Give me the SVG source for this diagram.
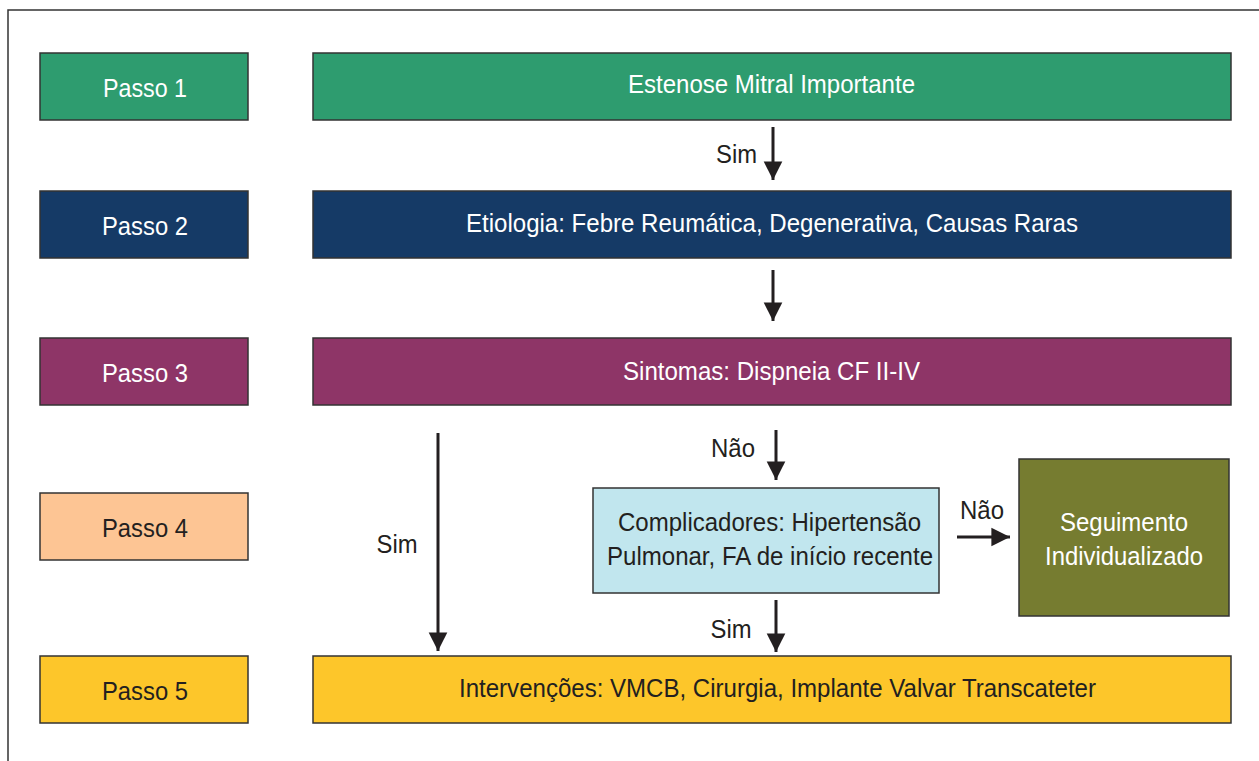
<svg xmlns="http://www.w3.org/2000/svg" width="1259" height="761" viewBox="0 0 1259 761">
<defs>
<marker id="ah" viewBox="0 0 10 10" refX="10" refY="5" markerWidth="6.2" markerHeight="6.5" markerUnits="strokeWidth" orient="auto">
<path d="M0,0 L10,5 L0,10 Z" fill="#231f20"/>
</marker>
<style>
.box{stroke:#333;stroke-width:1.5}
.t{font-family:"Liberation Sans",Arial,sans-serif;font-size:26px;text-anchor:middle}
.w{fill:#fff}
.d{fill:#231f20}
.lbl{font-family:"Liberation Sans",Arial,sans-serif;font-size:25px;fill:#231f20;text-anchor:middle}
.c{stroke:#231f20;stroke-width:3;fill:none;marker-end:url(#ah)}
</style>
</defs>
<rect width="1259" height="761" fill="#fff"/>
<path d="M8,761 V10 H1259" fill="none" stroke="#333" stroke-width="1.5"/>

<g id="passo1"><rect class="box" x="40" y="53" width="208" height="67" fill="#2e9c6f"/><text class="t w" x="145" y="97" textLength="84" lengthAdjust="spacingAndGlyphs">Passo 1</text></g>
<g id="passo2"><rect class="box" x="40" y="191" width="208" height="67" fill="#153a66"/><text class="t w" x="145" y="235" textLength="86" lengthAdjust="spacingAndGlyphs">Passo 2</text></g>
<g id="passo3"><rect class="box" x="40" y="338" width="208" height="67" fill="#8e3567"/><text class="t w" x="145" y="382" textLength="86" lengthAdjust="spacingAndGlyphs">Passo 3</text></g>
<g id="passo4"><rect class="box" x="40" y="493" width="208" height="67" fill="#fdc594"/><text class="t d" x="145" y="537" textLength="86" lengthAdjust="spacingAndGlyphs">Passo 4</text></g>
<g id="passo5"><rect class="box" x="40" y="656" width="208" height="67" fill="#fdc62a"/><text class="t d" x="145" y="700" textLength="86" lengthAdjust="spacingAndGlyphs">Passo 5</text></g>

<g id="estenose"><rect class="box" x="313" y="53" width="918" height="67" fill="#2e9c6f"/><text class="t w" x="771.5" y="93" textLength="287" lengthAdjust="spacingAndGlyphs">Estenose Mitral Importante</text></g>
<g id="etiologia"><rect class="box" x="313" y="191" width="918" height="67" fill="#153a66"/><text class="t w" x="772" y="232" textLength="612" lengthAdjust="spacingAndGlyphs">Etiologia: Febre Reumática, Degenerativa, Causas Raras</text></g>
<g id="sintomas"><rect class="box" x="313" y="338" width="918" height="67" fill="#8e3567"/><text class="t w" x="771.5" y="380" textLength="297" lengthAdjust="spacingAndGlyphs">Sintomas: Dispneia CF II-IV</text></g>
<g id="complicadores"><rect class="box" x="593" y="488" width="346" height="105" fill="#c1e6ee"/><text class="t d" x="769.5" y="531" textLength="303" lengthAdjust="spacingAndGlyphs">Complicadores: Hipertensão</text><text class="t d" x="770" y="565" textLength="326" lengthAdjust="spacingAndGlyphs">Pulmonar, FA de início recente</text></g>
<g id="seguimento"><rect class="box" x="1019" y="459" width="210" height="157" fill="#767c30"/><text class="t w" x="1124" y="531" textLength="128" lengthAdjust="spacingAndGlyphs">Seguimento</text><text class="t w" x="1124" y="565" textLength="158" lengthAdjust="spacingAndGlyphs">Individualizado</text></g>
<g id="intervencoes"><rect class="box" x="313" y="656" width="918" height="67" fill="#fdc62a"/><text class="t d" x="777.5" y="697" textLength="637" lengthAdjust="spacingAndGlyphs">Intervenções: VMCB, Cirurgia, Implante Valvar Transcateter</text></g>

<g id="connectors">
<line class="c" x1="773" y1="127" x2="773" y2="180"/>
<text class="lbl" x="736.5" y="163" textLength="41" lengthAdjust="spacingAndGlyphs">Sim</text>
<line class="c" x1="773" y1="270" x2="773" y2="321"/>
<line class="c" x1="776" y1="430" x2="776" y2="480"/>
<text class="lbl" x="733" y="457" textLength="44" lengthAdjust="spacingAndGlyphs">Não</text>
<line class="c" x1="957" y1="537" x2="1010" y2="537"/>
<text class="lbl" x="982" y="519" textLength="44" lengthAdjust="spacingAndGlyphs">Não</text>
<line class="c" x1="776" y1="600" x2="776" y2="652"/>
<text class="lbl" x="731" y="638" textLength="41" lengthAdjust="spacingAndGlyphs">Sim</text>
<line class="c" x1="438" y1="433" x2="438" y2="651"/>
<text class="lbl" x="397" y="553" textLength="41" lengthAdjust="spacingAndGlyphs">Sim</text>
</g>
</svg>
